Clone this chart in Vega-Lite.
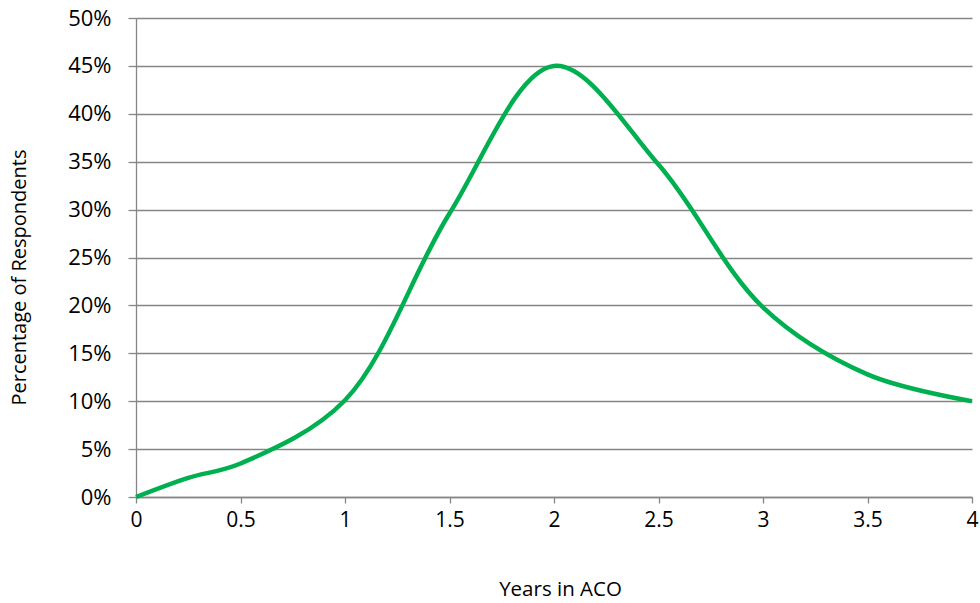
{
  "$schema": "https://vega.github.io/schema/vega-lite/v6.json",
  "width": 836,
  "height": 479,
  "autosize": {"type": "none"},
  "padding": {"left": 136, "top": 18, "right": 8, "bottom": 106},
  "background": "white",
  "data": {
    "values": [
      {"years": 0, "share": 0.0},
      {"years": 0.25, "share": 0.020},
      {"years": 0.5, "share": 0.035},
      {"years": 1, "share": 0.101},
      {"years": 1.5, "share": 0.296},
      {"years": 2, "share": 0.450},
      {"years": 2.5, "share": 0.347},
      {"years": 3, "share": 0.198},
      {"years": 3.5, "share": 0.128},
      {"years": 4, "share": 0.100}
    ]
  },
  "mark": {"type": "line", "color": "#00B050", "strokeWidth": 4.5, "interpolate": "catmull-rom", "clip": false},
  "encoding": {
    "x": {
      "field": "years",
      "type": "quantitative",
      "scale": {"domain": [0, 4], "nice": false, "zero": true},
      "axis": {
        "title": "Years in ACO",
        "values": [0, 0.5, 1, 1.5, 2, 2.5, 3, 3.5, 4],
        "labelExpr": "datum.value",
        "grid": false,
        "domainColor": "#868686",
        "domainWidth": 1.3,
        "tickColor": "#868686",
        "tickWidth": 1.3,
        "tickSize": 6,
        "labelPadding": 17,
        "labelFont": "Open Sans",
        "labelFontSize": 21,
        "labelColor": "#000000",
        "labelBaseline": "middle",
        "labelFlush": false,
        "labelOverlap": false,
        "titleFont": "Open Sans",
        "titleFontSize": 20.5,
        "titleFontWeight": "normal",
        "titleColor": "#000000",
        "titleAlign": "center",
        "titleBaseline": "middle",
        "titleX": 424,
        "titleY": 92
      }
    },
    "y": {
      "field": "share",
      "type": "quantitative",
      "scale": {"domain": [0, 0.5], "nice": false},
      "axis": {
        "title": "Percentage of  Respondents",
        "values": [0, 0.05, 0.1, 0.15, 0.2, 0.25, 0.3, 0.35, 0.4, 0.45, 0.5],
        "format": ".0%",
        "grid": true,
        "gridColor": "#868686",
        "gridWidth": 1.3,
        "domainColor": "#868686",
        "domainWidth": 1.3,
        "tickColor": "#868686",
        "tickWidth": 1.3,
        "tickSize": 8,
        "labelPadding": 17,
        "labelFont": "Open Sans",
        "labelFontSize": 22,
        "labelColor": "#000000",
        "labelFlush": false,
        "labelOverlap": false,
        "titleFont": "Open Sans",
        "titleFontSize": 20,
        "titleFontWeight": "normal",
        "titleColor": "#000000",
        "titleAngle": 270,
        "titleAlign": "center",
        "titleBaseline": "middle",
        "titleX": -117,
        "titleY": 259
      }
    }
  },
  "config": {"view": {"stroke": null}}
}
